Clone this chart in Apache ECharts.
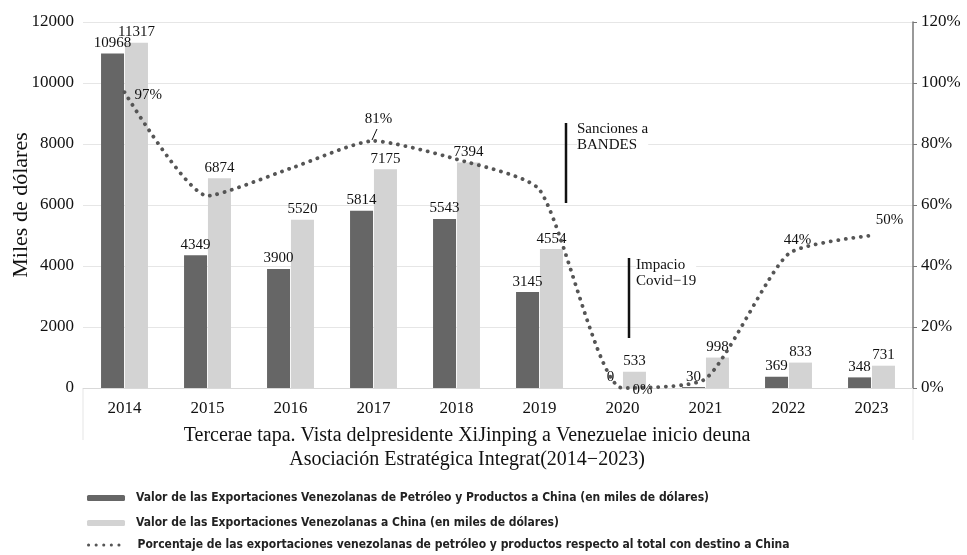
<!DOCTYPE html>
<html><head><meta charset="utf-8">
<script src="https://cdn.jsdelivr.net/npm/echarts@6/dist/echarts.min.js"></script>
<style>html,body{margin:0;padding:0;background:#fff}#c{width:967px;height:555px}</style>
</head><body><div id="c"></div>
<script>
const years = ['2014','2015','2016','2017','2018','2019','2020','2021','2022','2023'];
const petroleo = [10968, 4349, 3900, 5814, 5543, 3145, 0, 30, 369, 348];
const total = [11317, 6874, 5520, 7175, 7394, 4554, 533, 998, 833, 731];
const porcentaje = [97, 63, 72, 81, 75, 65, 0, 3, 44, 50];
const pctLabelShown = [true, false, false, true, false, false, true, false, true, true];
const leftTicks = [0, 2000, 4000, 6000, 8000, 10000, 12000];
const rightTicks = [0, 20, 40, 60, 80, 100, 120];
const seriesNames = [
  'Valor de las Exportaciones Venezolanas de Petróleo y Productos a China (en miles de dólares)',
  'Valor de las Exportaciones Venezolanas a China (en miles de dólares)',
  'Porcentaje de las exportaciones venezolanas de petróleo y productos respecto al total con destino a China'
];
const titleLines = ['Tercerae tapa. Vista delpresidente XiJinping a Venezuelae inicio deuna', 'Asociación Estratégica Integrat(2014−2023)'];
const annotations = [['Sanciones a', 'BANDES'], ['Impacio', 'Covid−19']];

const serif = '"Liberation Serif", "Times New Roman", serif';
const legendFont = {fontFamily: '"Liberation Sans Narrow", "DejaVu Sans Condensed", sans-serif', fontWeight: 'bold', fontSize: 12, color: '#222', padding: [0, 0, 0, 6]};
const pctPos = {
  0: {position: 'right', distance: 10},
  3: {position: 'top', distance: 14},
  6: {position: 'right', distance: 8},
  8: {position: 'top', distance: 6},
  9: {position: 'top', distance: 8}
};
const pctShift = {0: [0, 3], 3: [5, 0], 6: [2, 2], 8: [9, 0], 9: [18, 0]};
const pctData = porcentaje.map((v, i) => {
  const o = {value: v};
  if (pctLabelShown[i]) o.label = Object.assign({show: true}, pctPos[i]);
  return o;
});
function mkLegend(i, top) {
  const item = i === 2
    ? {name: seriesNames[i], itemStyle: {opacity: 0}, lineStyle: {width: 3, type: [0.1, 7.5], cap: 'round', color: '#555'}}
    : seriesNames[i];
  return {orient: 'vertical', left: 82, top: top, itemWidth: 38, itemHeight: 6, data: [item], textStyle: legendFont};
}

const chart = echarts.init(document.getElementById('c'), null, {renderer: 'canvas'});
chart.setOption({
  animation: false,
  backgroundColor: '#fff',
  textStyle: {fontFamily: serif},
  grid: {left: 83, right: 54, top: 22, bottom: 167, containLabel: false, outerBoundsMode: 'none'},
  legend: [mkLegend(0, 487), mkLegend(1, 512), mkLegend(2, 534)],
  xAxis: {
    type: 'category', data: years,
    axisLine: {show: true, lineStyle: {color: '#d9d9d9'}},
    axisTick: {show: false},
    axisLabel: {fontFamily: serif, fontSize: 17, color: '#111', margin: 12}
  },
  yAxis: [{
    type: 'value', min: 0, max: 12000, interval: 2000,
    name: 'Miles de dólares', nameLocation: 'middle', nameGap: 51, nameRotate: 90, nameMoveOverlap: false,
    nameTextStyle: {fontFamily: serif, fontSize: 22, color: '#111'},
    axisLine: {show: false}, axisTick: {show: false},
    axisLabel: {fontFamily: serif, fontSize: 17, color: '#111', margin: 9, formatter: v => String(v)},
    splitLine: {lineStyle: {color: '#e6e6e6', width: 1}}
  }, {
    type: 'value', min: 0, max: 120, interval: 20, position: 'right',
    axisLine: {show: true, lineStyle: {color: '#777', width: 1.5}},
    axisTick: {show: true, length: 4, inside: false, lineStyle: {color: '#777'}},
    axisLabel: {fontFamily: serif, fontSize: 17, color: '#111', margin: 8, formatter: '{value}%'},
    splitLine: {show: false}
  }],
  series: [{
    name: seriesNames[0], type: 'bar', data: petroleo, barWidth: 23, barGap: '4%',
    itemStyle: {color: '#666666'},
    label: {show: true, position: 'top', fontFamily: serif, fontSize: 15, color: '#111', distance: 3}
  }, {
    name: seriesNames[1], type: 'bar', data: total, barWidth: 23,
    itemStyle: {color: '#d3d3d3'},
    label: {show: true, position: 'top', fontFamily: serif, fontSize: 15, color: '#111', distance: 3}
  }, {
    name: seriesNames[2], type: 'line', yAxisIndex: 1, data: pctData, smooth: 0.2,
    symbol: 'circle', symbolSize: 0.1, showSymbol: true, z: 5,
    lineStyle: {color: '#555', width: 3.8, type: [0.1, 7.5], cap: 'round'},
    itemStyle: {color: '#555'},
    label: {show: false, fontFamily: serif, fontSize: 15, color: '#111', formatter: '{c}%'},
    labelLayout: p => {
      const s = pctShift[p.dataIndex] || [0, 0];
      return {dx: s[0], dy: s[1], hideOverlap: false};
    }
  }],
  graphic: [
    {type: 'line', z: 10, shape: {x1: 566, y1: 123, x2: 566, y2: 203}, style: {stroke: '#111', lineWidth: 2.5}},
    {type: 'text', z: 10, x: 577, y: 121, style: {text: annotations[0].join('\n'), font: '15px ' + serif, fill: '#111', lineHeight: 16, backgroundColor: '#fff'}},
    {type: 'line', z: 10, shape: {x1: 629, y1: 258, x2: 629, y2: 338}, style: {stroke: '#111', lineWidth: 2.5}},
    {type: 'text', z: 10, x: 636, y: 257, style: {text: annotations[1].join('\n'), font: '15px ' + serif, fill: '#111', lineHeight: 16, backgroundColor: '#fff'}},
    {type: 'line', z: 10, shape: {x1: 372, y1: 140, x2: 377, y2: 129}, style: {stroke: '#111', lineWidth: 1}},
    {type: 'line', shape: {x1: 83, y1: 389, x2: 83, y2: 440}, style: {stroke: '#eeeeee', lineWidth: 1.5}},
    {type: 'line', shape: {x1: 913, y1: 389, x2: 913, y2: 440}, style: {stroke: '#eeeeee', lineWidth: 1.5}},
    {type: 'text', x: 467, y: 426, style: {text: titleLines[0], font: '20px ' + serif, fill: '#111', align: 'center'}},
    {type: 'text', x: 467, y: 450, style: {text: titleLines[1], font: '20px ' + serif, fill: '#111', align: 'center'}}
  ]
});
</script>
</body></html>
